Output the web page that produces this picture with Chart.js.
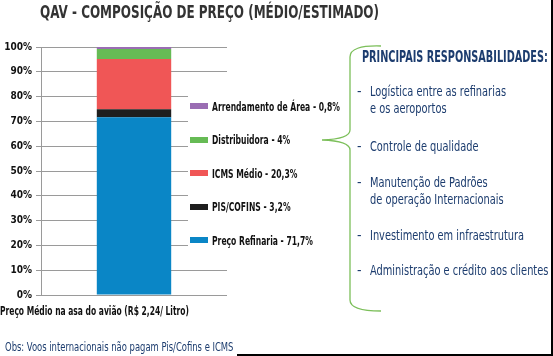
<!DOCTYPE html>
<html>
<head>
<meta charset="utf-8">
<script src="https://cdn.jsdelivr.net/npm/chart.js@4"></script>
<style>
  html,body{margin:0;padding:0;background:#fff;}
  body{width:553px;height:356px;position:relative;overflow:hidden;
    font-family:"Liberation Sans Narrow","DejaVu Sans Condensed","Roboto Condensed","Liberation Sans",sans-serif;}
  #wrap{position:absolute;left:0;top:0;width:553px;height:356px;}
  .abs{position:absolute;white-space:nowrap;transform-origin:0 50%;}
  #title{left:40px;top:1px;font-size:18px;font-weight:bold;color:#333;transform:scaleX(0.74);}
  #xlab{left:0px;top:304px;font-size:12px;font-weight:bold;color:#111;transform:scaleX(0.70);}
  #obs{left:5px;top:340px;font-size:12px;color:#1c3c6e;transform:scaleX(0.78);}
  #legendBg{left:188px;top:84px;width:150px;height:172px;background:#fff;}
  .li{position:absolute;left:190px;height:14px;display:flex;align-items:center;font-size:12.5px;font-weight:bold;color:#111;white-space:nowrap;}
  .li span.box{display:inline-block;width:18px;height:6px;margin-right:4px;}
  .li span.tx{display:inline-block;transform:scaleX(0.68);transform-origin:0 50%;}
  #head{left:362px;top:47px;font-size:16px;font-weight:bold;color:#1c3c6e;transform:scaleX(0.675);}
  .it{position:absolute;left:357px;font-size:14px;color:#1c3c6e;white-space:nowrap;line-height:17px;}
  .it b{font-weight:normal;display:inline-block;width:13px;}
  .it span{display:inline-block;transform:scaleX(0.78);transform-origin:0 50%;}
  #frameR{left:551px;top:0;width:2px;height:356px;background:#000;}
  #frameB{left:237px;top:354px;width:316px;height:2px;background:#000;}
</style>
</head>
<body>
<div id="wrap"><canvas id="c" width="553" height="356"></canvas></div>
<div id="title" class="abs">QAV - COMPOSIÇÃO DE PREÇO (MÉDIO/ESTIMADO)</div>
<div id="xlab" class="abs">Preço Médio na asa do avião (R$ 2,24/ Litro)</div>
<div id="obs" class="abs">Obs: Voos internacionais não pagam Pis/Cofins e ICMS</div>
<div id="legendBg" class="abs"></div>
<div id="legend"></div>
<svg class="abs" style="left:0;top:0" width="553" height="356">
  <path d="M381,46 Q350,45 350,57 L350,130 Q350,139 322,140 Q350,141 350,150 L350,300 Q350,311 381,311" fill="none" stroke="#7cbf5a" stroke-width="1.3"/>
</svg>
<div id="head" class="abs">PRINCIPAIS RESPONSABILIDADES:</div>
<div id="items"></div>
<div id="frameR" class="abs"></div>
<div id="frameB" class="abs"></div>
<script>
const categories = [""];
const seriesNames = ["Preço Refinaria", "PIS/COFINS", "ICMS Médio", "Distribuidora", "Arrendamento de Área"];
const precoRefinaria = [71.7];
const pisCofins = [3.2];
const icmsMedio = [20.3];
const distribuidora = [4.0];
const arrendamento = [0.8];
const seriesColors = ["#0a86c6", "#1e1e1e", "#f05656", "#66bb55", "#9a6db3"];
const yTicks = [0,10,20,30,40,50,60,70,80,90,100];
const responsabilidades = [
  ["Logística entre as refinarias", "e os aeroportos"],
  ["Controle de qualidade"],
  ["Manutenção de Padrões", "de operação Internacionais"],
  ["Investimento em infraestrutura"],
  ["Administração e crédito aos clientes"]
];

const values = [precoRefinaria, pisCofins, icmsMedio, distribuidora, arrendamento];
const FONT = '"Liberation Sans Narrow","DejaVu Sans Condensed","Liberation Sans",sans-serif';

const chart = new Chart(document.getElementById('c'), {
  type: 'bar',
  data: {
    labels: categories,
    datasets: seriesNames.map((n, i) => ({
      label: n, data: values[i], backgroundColor: seriesColors[i],
      borderWidth: 0, barPercentage: 0.4, categoryPercentage: 1
    }))
  },
  options: {
    responsive: false, animation: false, devicePixelRatio: 1,
    layout: { padding: { left: 0, right: 326, top: 47, bottom: 61 } },
    plugins: { legend: { display: false }, title: { display: false }, tooltip: { enabled: false } },
    scales: {
      x: { stacked: true, display: false },
      y: {
        stacked: true, min: 0, max: 100,
        afterFit: s => { s.width = 41; },
        afterBuildTicks: s => { s.ticks = yTicks.map(v => ({ value: v })); },
        ticks: { stepSize: 10, padding: 4, color: '#111', font: { family: FONT, size: 10, weight: 'bold' },
                 callback: v => v + '%' },
        grid: { color: '#9a9a9a', lineWidth: 1, tickLength: 5, drawTicks: true },
        border: { color: '#9a9a9a' }
      }
    }
  }
});

// HTML legend built from chart datasets (top-to-bottom reversed)
const leg = document.getElementById('legend');
const fmt = v => String(v).replace('.', ',');
chart.data.datasets.slice().reverse().forEach((ds, i) => {
  const d = document.createElement('div');
  d.className = 'li';
  d.style.top = (99 + i * 33.5) + 'px';
  d.innerHTML = '<span class="box" style="background:' + ds.backgroundColor + '"></span>' +
    '<span class="tx">' + ds.label + ' - ' + fmt(ds.data[0]) + '%</span>';
  leg.appendChild(d);
});

// Right panel items
const itemTops = [83, 138, 174, 227, 262];
const items = document.getElementById('items');
responsabilidades.forEach((lines, i) => {
  const d = document.createElement('div');
  d.className = 'it';
  d.style.top = itemTops[i] + 'px';
  d.innerHTML = lines.map((l, j) => '<b>' + (j === 0 ? '-' : '') + '</b><span>' + l + '</span>').join('<br>');
  items.appendChild(d);
});
</script>
</body>
</html>
